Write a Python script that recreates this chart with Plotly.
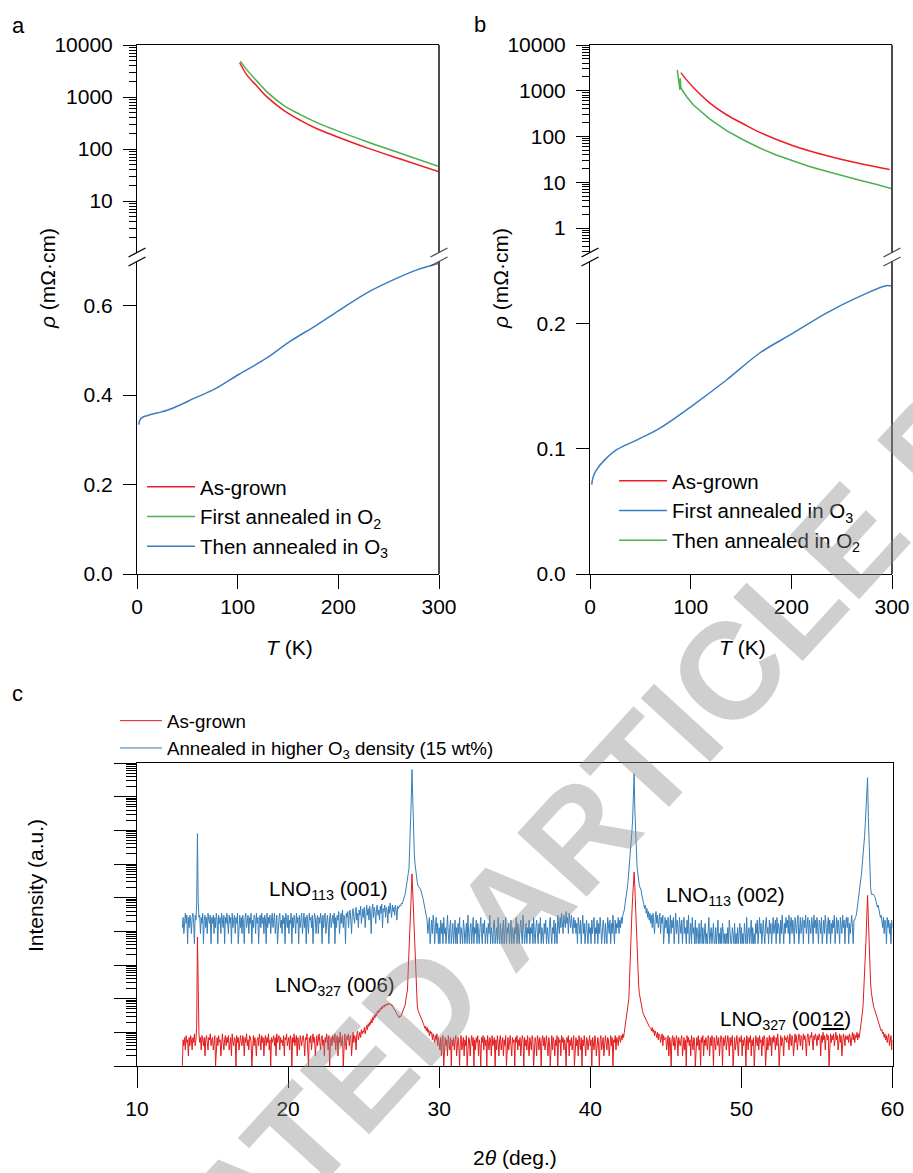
import numpy as np
import plotly.graph_objects as go

W, H = 913, 1173
FONT = "Arial, 'Liberation Sans', Helvetica, sans-serif"

# ---------------- Panel a : resistivity (LNO film, O2 then O3) ----------------
a_T_red = [102.0, 109.3, 119.2, 129.1, 145.7, 162.3, 178.8, 195.4, 228.5, 261.6, 300.0]
a_rho_red = [4560, 2630, 1615, 1005, 555, 356, 245, 182, 105, 64, 36.3]
a_T_green = [102.6, 109.3, 119.2, 129.1, 145.7, 162.3, 178.8, 195.4, 228.5, 261.6, 300.0]
a_rho_green = [4910, 3290, 2020, 1257, 693, 458, 321, 238, 138, 83, 46]
a_T_blue = [1.7, 3.3, 6, 10, 20, 30, 45, 56, 76, 101, 129, 152, 179, 202, 228, 255, 278, 300]
a_rho_blue = [0.334, 0.346, 0.351, 0.354, 0.360, 0.366, 0.380, 0.392, 0.412, 0.446,
              0.483, 0.520, 0.557, 0.591, 0.628, 0.658, 0.680, 0.695]

# ---------------- Panel b : resistivity (O3 then O2) ----------------
b_T_red = [90.3, 95.9, 102.5, 119.1, 135.6, 152.1, 168.7, 201.8, 234.8, 267.9, 297.7]
b_rho_red = [2496, 1730, 1197, 537, 299, 190, 123, 63, 38.3, 25.6, 19.0]
b_T_green = [86.7, 88.0, 89.3, 89.6, 90.3, 95.9, 102.5, 119.1, 135.6, 152.1, 168.7,
             185.0, 201.8, 218.0, 234.8, 251.0, 267.9, 284.0, 300.0]
b_rho_green = [2860, 1600, 1050, 1880, 1150, 750, 493, 240, 134, 85, 56,
               39.5, 28.8, 22.0, 17.4, 13.8, 11.1, 9.0, 7.2]
b_T_blue = [1.7, 3.3, 6.6, 13.2, 26.5, 46.3, 69.5, 102.5, 135.6, 168.7, 201.8, 234.8, 267.9, 294.4, 300]
b_rho_blue = [0.0714, 0.078, 0.0834, 0.090, 0.0993, 0.107, 0.1166, 0.135, 0.155, 0.1766,
              0.1925, 0.2085, 0.2218, 0.2304, 0.2298]

# ---------------- Panel c : XRD counts, 2theta = 13.00 ... 60.00 step 0.05 (one row per degree) ----------------
two_theta_start, two_theta_step = 13.0, 0.05
red_rows = [
    [1, 6, 4, 7, 3, 8, 5, 6, 2, 7, 4, 8, 6, 3, 7, 5, 9, 4, 6, 14],                       # 13
    [6800, 30, 9, 5, 7, 3, 8, 6, 4, 7, 2, 6, 8, 5, 3, 7, 6, 9, 4, 6],                    # 14
    [7, 3, 5, 8, 1, 6, 7, 4, 8, 5, 6, 2, 7, 9, 5, 3, 6, 8, 4, 7],                        # 15
    [5, 8, 3, 6, 7, 2, 9, 5, 4, 7, 6, 1, 8, 5, 7, 3, 6, 8, 5, 4],                        # 16
    [8, 6, 2, 7, 5, 9, 4, 6, 3, 8, 7, 5, 1, 6, 8, 4, 7, 5, 2, 6],                        # 17
    [7, 4, 9, 6, 3, 8, 5, 7, 2, 6, 8, 4, 7, 5, 9, 3, 6, 1, 7, 5],                        # 18
    [6, 8, 4, 7, 2, 9, 5, 6, 8, 3, 7, 5, 6, 4, 8, 2, 7, 6, 9, 4],                        # 19
    [5, 7, 3, 8, 6, 1, 7, 5, 9, 4, 6, 8, 2, 7, 5, 3, 8, 6, 4, 7],                        # 20
    [8, 5, 2, 7, 6, 9, 4, 1, 7, 5, 8, 3, 6, 9, 5, 7, 2, 6, 8, 4],                        # 21
    [6, 9, 5, 3, 7, 8, 4, 6, 2, 7, 5, 9, 6, 3, 8, 1, 5, 7, 4, 8],                        # 22
    [7, 5, 9, 3, 6, 8, 2, 7, 5, 10, 4, 6, 8, 1, 7, 9, 5, 3, 8, 6],                       # 23
    [9, 4, 7, 8, 2, 6, 10, 5, 8, 7, 3, 9, 11, 6, 8, 10, 7, 12, 9, 11],                   # 24
    [10, 14, 9, 13, 16, 12, 18, 15, 20, 17, 24, 19, 28, 23, 32, 27, 36, 31, 42, 37],     # 25
    [46, 40, 52, 47, 58, 51, 62, 56, 66, 60, 70, 64, 74, 68, 72, 65, 70, 61, 64, 55],    # 26
    [52, 46, 43, 38, 35, 31, 29, 27, 31, 29, 34, 38, 42, 47, 55, 65, 100, 130, 180, 700],  # 27
    [3700, 10000, 32000, 125000, 510000, 120000, 30000, 6000, 1400, 400,
     130, 60, 45, 40, 35, 30, 25, 22, 20, 18],                                             # 28
    [16, 13, 15, 11, 14, 10, 12, 8, 11, 9, 10, 6, 9, 7, 5, 8, 6, 9, 4, 7],               # 29
    [5, 3, 7, 2, 6, 8, 1, 5, 7, 4, 6, 2, 8, 5, 3, 7, 1, 6, 4, 7],                        # 30
    [3, 6, 8, 2, 5, 7, 4, 1, 6, 8, 3, 5, 7, 2, 6, 4, 8, 1, 5, 7],                        # 31
    [6, 2, 5, 8, 4, 7, 1, 6, 3, 7, 5, 8, 2, 6, 4, 1, 7, 5, 8, 3],                        # 32
    [7, 4, 6, 1, 8, 5, 3, 7, 6, 2, 8, 4, 5, 7, 1, 6, 3, 8, 5, 2],                        # 33
    [6, 8, 3, 5, 7, 2, 6, 4, 8, 1, 5, 7, 3, 6, 8, 4, 2, 7, 5, 6],                        # 34
    [1, 7, 5, 8, 3, 6, 4, 7, 2, 5, 8, 6, 1, 7, 4, 6, 3, 8, 5, 2],                        # 35
    [7, 5, 3, 8, 6, 1, 4, 7, 5, 2, 8, 6, 3, 7, 5, 1, 6, 8, 4, 7],                        # 36
    [3, 6, 8, 4, 2, 7, 5, 1, 6, 8, 3, 7, 5, 2, 6, 4, 8, 1, 7, 5],                        # 37
    [6, 2, 8, 5, 7, 3, 6, 4, 1, 7, 5, 8, 2, 6, 4, 7, 3, 5, 8, 1],                        # 38
    [5, 7, 4, 6, 2, 8, 5, 3, 7, 1, 6, 4, 8, 5, 2, 7, 6, 3, 5, 8],                        # 39
    [4, 6, 1, 7, 5, 3, 8, 6, 2, 5, 7, 4, 1, 6, 8, 3, 5, 7, 2, 6],                        # 40
    [8, 5, 3, 7, 6, 2, 5, 8, 4, 7, 1, 6, 5, 8, 3, 7, 6, 4, 8, 6],                        # 41
    [5, 8, 6, 9, 7, 10, 14, 20, 29, 40, 63, 100, 400, 2500, 10000, 32000,
     100000, 320000, 575000, 200000],                                                      # 42
    [40000, 8000, 2000, 560, 250, 140, 100, 70, 56, 45, 36, 32, 28, 26, 23, 21, 19, 17, 15, 14],  # 43
    [13, 11, 14, 10, 12, 8, 11, 9, 7, 10, 6, 9, 8, 5, 7, 9, 4, 8, 6, 7],                 # 44
    [7, 3, 6, 8, 2, 7, 5, 1, 6, 8, 4, 7, 3, 5, 8, 6, 2, 7, 5, 4],                        # 45
    [6, 8, 2, 5, 7, 3, 6, 1, 8, 5, 7, 4, 6, 2, 8, 5, 3, 7, 6, 1],                        # 46
    [5, 7, 4, 8, 3, 6, 1, 7, 5, 8, 2, 6, 4, 7, 5, 3, 8, 6, 2, 7],                        # 47
    [4, 8, 6, 1, 7, 5, 3, 8, 6, 4, 7, 2, 5, 8, 6, 1, 7, 4, 6, 8],                        # 48
    [3, 6, 8, 5, 2, 7, 4, 6, 8, 1, 5, 7, 3, 6, 8, 4, 2, 7, 5, 6],                        # 49
    [8, 2, 6, 4, 7, 5, 1, 8, 6, 3, 7, 5, 8, 2, 6, 4, 7, 1, 5, 8],                        # 50
    [6, 4, 7, 3, 8, 5, 6, 2, 7, 4, 8, 6, 1, 5, 7, 3, 6, 8, 4, 7],                        # 51
    [2, 7, 5, 8, 6, 3, 7, 4, 9, 5, 1, 6, 8, 4, 7, 5, 2, 8, 6, 7],                        # 52
    [5, 8, 6, 3, 9, 7, 4, 8, 6, 2, 7, 9, 5, 8, 3, 6, 9, 7, 4, 8],                        # 53
    [7, 3, 9, 6, 8, 5, 2, 7, 9, 6, 4, 8, 7, 10, 5, 3, 8, 6, 9, 7],                       # 54
    [4, 8, 6, 9, 7, 2, 8, 5, 10, 6, 8, 3, 7, 9, 6, 8, 1, 7, 9, 5],                       # 55
    [8, 6, 9, 4, 7, 10, 6, 8, 3, 7, 9, 5, 8, 2, 6, 9, 7, 4, 8, 6],                       # 56
    [6, 8, 5, 9, 7, 4, 8, 10, 6, 9, 5, 8, 7, 10, 6, 9, 7, 12, 18, 26],                   # 57
    [36, 60, 150, 500, 1300, 6000, 30000, 117000, 25000, 3000,
     800, 300, 150, 100, 72, 58, 50, 42, 36, 30],                                          # 58
    [25, 22, 19, 15, 13, 11, 12, 9, 10, 7, 9, 6, 8, 5, 7, 9, 4, 6, 8, 3],                # 59
    [6],                                                                                   # 60
]
blue_rows = [
    [3, 6, 2, 5, 8, 4, 7, 1, 6, 3, 7, 5, 2, 6, 8, 4, 1, 7, 5, 15],                       # 13
    [1860, 18, 6, 7, 2, 6, 4, 8, 1, 5, 7, 3, 6, 2, 8, 5, 4, 7, 1, 6],                    # 14
    [4, 7, 2, 6, 3, 8, 5, 1, 7, 4, 6, 2, 8, 5, 3, 7, 1, 6, 4, 8],                        # 15
    [5, 2, 7, 4, 6, 1, 8, 3, 5, 7, 2, 6, 4, 8, 1, 5, 7, 3, 6, 2],                        # 16
    [7, 4, 1, 6, 8, 3, 5, 7, 2, 6, 4, 8, 1, 5, 3, 7, 6, 2, 8, 4],                        # 17
    [6, 1, 5, 7, 3, 8, 4, 6, 2, 7, 5, 1, 8, 3, 6, 4, 7, 2, 5, 8],                        # 18
    [3, 6, 8, 2, 5, 7, 1, 4, 6, 8, 3, 5, 2, 7, 4, 6, 1, 8, 5, 3],                        # 19
    [7, 2, 5, 4, 8, 1, 6, 3, 7, 5, 2, 8, 4, 6, 1, 7, 3, 5, 8, 2],                        # 20
    [5, 8, 3, 6, 1, 7, 4, 2, 8, 5, 6, 3, 7, 1, 4, 8, 6, 2, 5, 7],                        # 21
    [2, 6, 4, 8, 5, 1, 7, 3, 6, 8, 2, 5, 7, 4, 1, 6, 8, 3, 5, 7],                        # 22
    [4, 8, 1, 6, 3, 7, 5, 9, 2, 6, 8, 4, 10, 3, 7, 5, 1, 8, 6, 9],                       # 23
    [3, 7, 10, 5, 2, 8, 11, 6, 4, 9, 12, 5, 8, 3, 10, 7, 13, 4, 9, 11],                  # 24
    [6, 12, 3, 9, 14, 7, 11, 5, 13, 8, 2, 10, 15, 6, 12, 9, 4, 11, 14, 7],               # 25
    [10, 5, 13, 8, 15, 3, 11, 9, 14, 6, 12, 10, 4, 13, 8, 16, 11, 6, 14, 9],             # 26
    [12, 7, 14, 10, 5, 13, 11, 12, 14, 13, 16, 15, 18, 20, 23, 30, 42, 55, 74, 120],     # 27
    [166, 590, 2950, 18600, 148000, 11700, 1860, 470, 234, 132,
     83, 66, 52, 49, 47, 42, 37, 31, 26, 20],                                              # 28
    [15, 11, 7, 6, 5, 2, 4, 6, 1, 3, 5, 2, 7, 4, 1, 3, 6, 2, 4, 1],                      # 29
    [3, 1, 5, 2, 4, 1, 6, 2, 3, 1, 4, 7, 2, 1, 3, 5, 1, 2, 4, 1],                        # 30
    [2, 5, 1, 3, 1, 4, 2, 6, 1, 3, 2, 1, 5, 3, 1, 2, 4, 1, 7, 2],                        # 31
    [1, 3, 4, 1, 2, 6, 1, 3, 2, 5, 1, 4, 2, 1, 3, 6, 2, 1, 4, 2],                        # 32
    [5, 1, 2, 3, 1, 4, 2, 7, 1, 3, 2, 1, 4, 5, 1, 2, 3, 1, 6, 2],                        # 33
    [1, 4, 2, 1, 3, 5, 1, 2, 6, 1, 3, 2, 4, 1, 2, 5, 1, 3, 2, 1],                        # 34
    [3, 2, 6, 1, 4, 2, 1, 3, 5, 2, 1, 7, 3, 1, 2, 4, 1, 3, 2, 5],                        # 35
    [1, 3, 2, 4, 1, 6, 2, 1, 3, 5, 2, 1, 4, 2, 6, 1, 3, 2, 1, 4],                        # 36
    [2, 5, 1, 3, 2, 1, 4, 6, 2, 1, 3, 2, 5, 1, 4, 2, 1, 7, 3, 2],                        # 37
    [6, 3, 8, 4, 2, 7, 5, 3, 9, 4, 6, 2, 8, 5, 3, 7, 4, 2, 6, 3],                        # 38
    [5, 2, 4, 1, 6, 3, 2, 5, 1, 3, 7, 2, 4, 1, 3, 5, 2, 1, 4, 2],                        # 39
    [3, 1, 5, 2, 4, 6, 1, 3, 2, 5, 1, 4, 2, 6, 3, 1, 2, 5, 3, 1],                        # 40
    [4, 2, 1, 6, 3, 2, 5, 1, 4, 2, 7, 3, 1, 5, 2, 4, 3, 6, 2, 5],                        # 41
    [3, 6, 4, 7, 8, 10, 15, 20, 30, 45, 74, 130, 234, 450, 930, 2000,
     4700, 25000, 112000, 9000],                                                           # 42
    [1500, 400, 180, 117, 70, 52, 45, 42, 30, 23, 16, 13, 11, 14, 8, 11, 6, 9, 5, 8],    # 43
    [4, 7, 3, 8, 5, 2, 6, 9, 4, 7, 3, 5, 8, 2, 6, 4, 7, 1, 5, 6],                        # 44
    [3, 5, 2, 6, 1, 4, 7, 2, 5, 3, 6, 1, 4, 8, 2, 5, 3, 1, 6, 4],                        # 45
    [2, 5, 1, 4, 6, 2, 3, 1, 5, 2, 7, 1, 3, 4, 1, 6, 2, 3, 1, 5],                        # 46
    [1, 3, 2, 1, 4, 1, 2, 5, 1, 3, 1, 2, 4, 1, 2, 1, 3, 6, 1, 2],                        # 47
    [3, 1, 2, 4, 1, 1, 3, 1, 2, 5, 1, 2, 1, 3, 1, 4, 2, 1, 2, 1],                        # 48
    [2, 1, 3, 1, 5, 2, 1, 1, 3, 2, 1, 4, 1, 2, 1, 3, 1, 2, 4, 1],                        # 49
    [3, 1, 2, 1, 4, 2, 1, 6, 1, 2, 3, 1, 2, 5, 1, 3, 1, 2, 1, 4],                        # 50
    [2, 5, 1, 3, 6, 2, 4, 1, 3, 5, 2, 1, 4, 6, 2, 3, 1, 5, 2, 4],                        # 51
    [1, 4, 6, 2, 3, 5, 1, 6, 2, 4, 3, 1, 5, 2, 7, 3, 1, 4, 2, 6],                        # 52
    [3, 5, 2, 7, 1, 4, 6, 2, 5, 3, 1, 6, 4, 2, 5, 7, 1, 3, 6, 2],                        # 53
    [4, 6, 1, 5, 3, 7, 2, 4, 6, 1, 5, 3, 2, 6, 4, 1, 7, 3, 5, 2],                        # 54
    [6, 3, 1, 5, 4, 2, 6, 1, 3, 5, 2, 7, 4, 1, 3, 6, 2, 5, 1, 4],                        # 55
    [2, 5, 3, 7, 1, 4, 6, 2, 5, 3, 1, 6, 4, 2, 7, 3, 5, 1, 4, 6],                        # 56
    [3, 6, 1, 4, 2, 5, 7, 3, 1, 5, 5, 6, 7, 10, 15, 22, 30, 48, 74, 120],                # 57
    [234, 400, 740, 1500, 3700, 10000, 30000, 85000, 6000, 800,
     120, 47, 30, 28, 30, 29, 26, 24, 19, 15],                                             # 58
    [12, 14, 11, 8, 6, 7, 5, 3, 6, 2, 5, 4, 1, 6, 3, 5, 2, 4, 1, 5],                     # 59
    [3],                                                                                   # 60
]
for rows in (red_rows, blue_rows):
    assert all(len(r) == 20 for r in rows[:-1]) and len(rows[-1]) == 1
red_counts = [v for r in red_rows for v in r]
blue_counts = [v for r in blue_rows for v in r]
BLUE_OFFSET = 4300  # vertical stacking factor of the annealed pattern
two_theta = np.round(two_theta_start + two_theta_step * np.arange(len(red_counts)), 2)

x_ticks_T = [0, 100, 200, 300]
x_ticks_2t = [10, 20, 30, 40, 50, 60]

# ---------------- helpers ----------------
def px(x):
    return x / W

def py(y):
    return 1 - y / H

RED, GREEN, BLUE = "#ee1d23", "#4caf50", "#3a7dc0"
XRED, XBLUE = "#e41a1c", "#377eb8"

fig = go.Figure()
# panel a
fig.add_trace(go.Scatter(x=a_T_red, y=a_rho_red, xaxis="x", yaxis="y", mode="lines",
                         line=dict(color=RED, width=1.5, shape="spline"), name="As-grown", legend="legend"))
fig.add_trace(go.Scatter(x=a_T_green, y=a_rho_green, xaxis="x", yaxis="y", mode="lines",
                         line=dict(color=GREEN, width=1.5, shape="spline"),
                         name="First annealed in O<sub>2</sub>", legend="legend"))
fig.add_trace(go.Scatter(x=a_T_blue, y=a_rho_blue, xaxis="x2", yaxis="y2", mode="lines",
                         line=dict(color=BLUE, width=1.5, shape="spline"),
                         name="Then annealed in O<sub>3</sub>", legend="legend"))
# panel b
fig.add_trace(go.Scatter(x=b_T_red, y=b_rho_red, xaxis="x3", yaxis="y3", mode="lines",
                         line=dict(color=RED, width=1.5, shape="spline"), name="As-grown", legend="legend2"))
fig.add_trace(go.Scatter(x=b_T_blue, y=b_rho_blue, xaxis="x4", yaxis="y4", mode="lines",
                         line=dict(color=BLUE, width=1.5, shape="spline"),
                         name="First annealed in O<sub>3</sub>", legend="legend2"))
fig.add_trace(go.Scatter(x=b_T_green, y=b_rho_green, xaxis="x3", yaxis="y3", mode="lines",
                         line=dict(color=GREEN, width=1.5),
                         name="Then annealed in O<sub>2</sub>", legend="legend2"))
# panel c
fig.add_trace(go.Scatter(x=two_theta, y=red_counts, xaxis="x5", yaxis="y5", mode="lines",
                         line=dict(color=XRED, width=1), name="As-grown", legend="legend3"))
fig.add_trace(go.Scatter(x=two_theta, y=np.array(blue_counts) * BLUE_OFFSET, xaxis="x5", yaxis="y5",
                         mode="lines", line=dict(color=XBLUE, width=1),
                         name="Annealed in higher O<sub>3</sub> density (15 wt%)", legend="legend3"))

tickfont = dict(family=FONT, size=21, color="black")
common = dict(showgrid=False, zeroline=False, showline=True, linecolor="black", linewidth=1,
              tickcolor="black", tickwidth=1, tickfont=tickfont)
minor_log = dict(ticks="outside", ticklen=7, tickcolor="black", tickwidth=1, dtick="D1", showgrid=False)

AX_L, AX_R, BX_L, BX_R = 137, 439, 590, 892
TOP, BRK_U, BRK_L, BOT = 45, 252.5, 261.5, 574
legfont = dict(family=FONT, size=20.5, color="black")
YSTAND = 6

layout = dict(
    width=W, height=H, margin=dict(l=0, r=0, t=0, b=0, pad=0, autoexpand=False),
    plot_bgcolor="white", paper_bgcolor="white",
    font=dict(family=FONT, size=21, color="black"),
    # a upper
    xaxis=dict(domain=[px(AX_L), px(AX_R)], range=[0, 300], anchor="y", side="top",
               ticks="", showticklabels=False, **common),
    yaxis=dict(domain=[py(BRK_U), py(TOP)], type="log", range=[4 - (BRK_U - TOP) / 52.0, 4], anchor="x",
               ticks="outside", ticklen=13, tickvals=[10, 100, 1000, 10000], ticklabelstandoff=YSTAND,
               ticktext=["10", "100", "1000", "10000"], minor=minor_log, **common),
    # a lower
    xaxis2=dict(domain=[px(AX_L), px(AX_R)], range=[0, 300], anchor="y2", ticks="outside", ticklen=14,
                tickvals=x_ticks_T, **common),
    yaxis2=dict(domain=[py(BOT), py(BRK_L)], range=[0, (BOT - BRK_L) / 447.3], anchor="x2",
                ticks="outside", ticklen=13, tickvals=[0, 0.2, 0.4, 0.6], ticklabelstandoff=YSTAND,
                ticktext=["0.0", "0.2", "0.4", "0.6"], **common),
    # b upper
    xaxis3=dict(domain=[px(BX_L), px(BX_R)], range=[0, 300], anchor="y3", side="top",
                ticks="", showticklabels=False, **common),
    yaxis3=dict(domain=[py(BRK_U), py(TOP)], type="log", range=[4 - (BRK_U - TOP) / 45.75, 4], anchor="x3",
                ticks="outside", ticklen=13, tickvals=[1, 10, 100, 1000, 10000], ticklabelstandoff=YSTAND,
                ticktext=["1", "10", "100", "1000", "10000"], minor=minor_log, **common),
    # b lower
    xaxis4=dict(domain=[px(BX_L), px(BX_R)], range=[0, 300], anchor="y4", ticks="outside", ticklen=14,
                tickvals=x_ticks_T, **common),
    yaxis4=dict(domain=[py(BOT), py(BRK_L)], range=[0, (BOT - BRK_L) / 1251.5], anchor="x4",
                ticks="outside", ticklen=13, tickvals=[0, 0.1, 0.2], ticklabelstandoff=YSTAND,
                ticktext=["0.0", "0.1", "0.2"], **common),
    # c
    xaxis5=dict(domain=[px(137), px(892.5)], range=[10, 60], anchor="y5", ticks="outside", ticklen=21,
                tickvals=x_ticks_2t, mirror=True, ticklabelstandoff=3, **common),
    yaxis5=dict(domain=[py(1066), py(763)], type="log", range=[0, 9], anchor="x5", ticks="outside",
                ticklen=22, tickvals=[10 ** k for k in range(10)], showticklabels=False, mirror=True,
                minor=dict(ticks="outside", ticklen=10, tickcolor="black", tickwidth=1, dtick="D1"),
                **common),
    legend=dict(x=px(142), y=py(467), xanchor="left", yanchor="top", bgcolor="rgba(0,0,0,0)",
                font=legfont, itemwidth=48, tracegroupgap=0),
    legend2=dict(x=px(614), y=py(461), xanchor="left", yanchor="top", bgcolor="rgba(0,0,0,0)",
                 font=legfont, itemwidth=48, tracegroupgap=0),
    legend3=dict(x=px(115), y=py(702), xanchor="left", yanchor="top", bgcolor="rgba(0,0,0,0)",
                 font=dict(family=FONT, size=18.7, color="black"), itemwidth=42, tracegroupgap=0),
)
fig.update_layout(**layout)

# right-hand frame lines (grey) and axis-break marks
shapes = []
for xr in (AX_R, BX_R):
    for y0, y1 in ((TOP, BRK_U), (BRK_L, BOT)):
        shapes.append(dict(type="line", xref="paper", yref="paper", x0=px(xr), x1=px(xr),
                           y0=py(y0), y1=py(y1), line=dict(color="#4d4d4d", width=2)))
for xb, col in ((AX_L, "black"), (AX_R, "#4d4d4d"), (BX_L, "black"), (BX_R, "#4d4d4d")):
    for yc in (BRK_U, BRK_L):
        shapes.append(dict(type="line", xref="paper", yref="paper", x0=px(xb - 8.5), x1=px(xb + 8.5),
                           y0=py(yc + 4.5), y1=py(yc - 4.5), line=dict(color=col, width=1.3)))
fig.update_layout(shapes=shapes)

def ann(text, x, y, size=21, **kw):
    d = dict(text=text, x=px(x), y=py(y), xref="paper", yref="paper", showarrow=False,
             xanchor="center", yanchor="middle",
             font=dict(family=FONT, size=size, color="black"))
    d.update(kw)
    return d

annotations = [
    ann("a", 10, 26, 22, xanchor="left"),
    ann("b", 472, 24, 22, xanchor="left"),
    ann("c", 10, 693, 22, xanchor="left"),
    ann("<i>ρ</i> (mΩ·cm)", 47, 279, textangle=-90),
    ann("<i>ρ</i> (mΩ·cm)", 500, 279, textangle=-90),
    ann("<i>T</i> (K)", 289, 647),
    ann("<i>T</i> (K)", 742, 647),
    ann("Intensity (a.u.)", 35, 886, textangle=-90),
    ann("2<i>θ</i> (deg.)", 515, 1157),
    ann("LNO<sub>113</sub> (001)", 328, 890, 20.5),
    ann("LNO<sub>327</sub> (006)", 335, 986, 20.5),
    ann("LNO<sub>113</sub> (002)", 725, 896, 20.5),
    ann("LNO<sub>327</sub> (00<u>12</u>)", 785, 1020, 20.5),
    dict(text="<b>ACCELERATED ARTICLE PREVIEW</b>", x=px(548), y=py(868), xref="paper", yref="paper",
         showarrow=False, textangle=-47.5, xanchor="center", yanchor="middle",
         font=dict(family=FONT, size=137, color="rgba(140,140,140,0.42)")),
]
fig.update_layout(annotations=annotations)

fig.write_html("out.html")
